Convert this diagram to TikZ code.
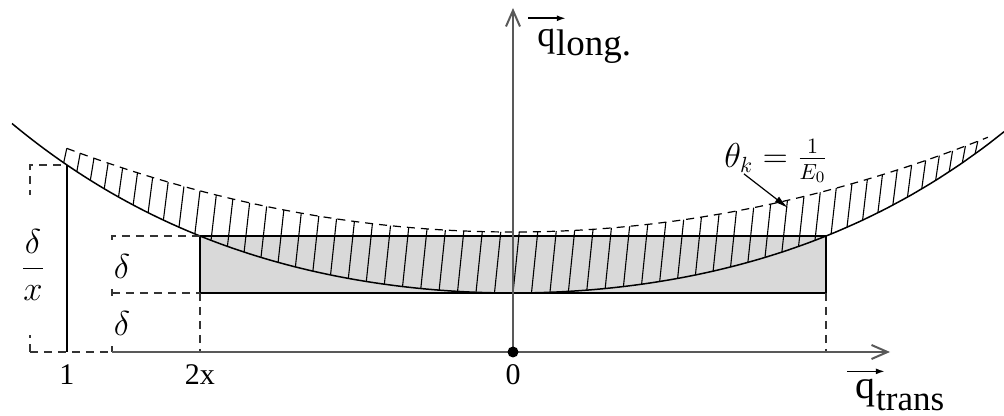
\documentclass[tikz,border=0pt]{standalone}
\usepackage{amsmath}
\usepackage{fontspec}
\setmainfont{Liberation Serif}
\usetikzlibrary{arrows.meta,calc}

\begin{document}
\begin{tikzpicture}[
  x=50pt, y=50pt,
  axisline/.style={draw=black!65, line width=1pt, -{Straight Barb[length=8pt,width=7pt]}},
  dashline/.style={draw=black!80, line width=0.6pt, dash pattern=on 4pt off 3pt},
  curveline/.style={line width=0.75pt},
  hatchline/.style={line width=0.55pt},
  vecarr/.style={line width=0.8pt, -{Latex[length=4.5pt,width=3pt]}},
  ptr/.style={line width=0.6pt, -{Latex[length=7pt,width=3.5pt]}},
  num/.style={font=\fontsize{15}{17}\selectfont},
  sym/.style={font=\fontsize{17}{19}\selectfont, fill=white},
  declare function={lo(\t)=0.59+0.0522*\t*\t+0.000611*\t*\t*\t*\t; hi(\t)=1.2+0.042*\t*\t;}
]
\useasboundingbox (-5.13,-0.64) rectangle (4.91,3.52);

\coordinate (boxsw) at (-3.13,0.59);
\coordinate (boxne) at (3.13,1.16);
\coordinate (one) at (-4.46,{lo(-4.46)});
\coordinate (xstart) at (-4.01,0);
\coordinate (xtip) at (3.77,0);
\coordinate (ytip) at (0,3.44);
\coordinate (thtip) at (2.75,1.44);

\fill[gray!30] (boxsw) rectangle (boxne);
\foreach \n in {-27,...,28} {
  \pgfmathsetmacro\u{0.185*\n-0.0255*(\n/10)^3}
  \pgfmathsetmacro\v{\u+0.02+0.07*(hi(\u)-lo(\u))}
  \draw[hatchline] (\u,{lo(\u)}) -- (\v,{hi(\v)});
}
\draw[dashline, draw=black] plot[domain=-4.46:4.75, samples=90, smooth] (\x,{hi(\x)});
\draw[curveline] plot[domain=-5.01:4.91, samples=120, smooth] (\x,{lo(\x)});
\draw[line width=1.2pt] (boxsw) rectangle (boxne);

\draw[dashline] (-4.83,0) -- (-4.83,{lo(-4.46)}) -- (one);
\draw[dashline] (-4.83,0) -- (xstart);
\draw[line width=0.7pt] (one) -- (-4.46,0);
\draw[dashline] (xstart) -- (-4.01,1.16) -- (-3.13,1.16);
\draw[dashline] (-4.01,0.59) -- (boxsw);
\draw[dashline] (boxsw) -- (-3.13,0);
\draw[dashline] (3.13,0.59) -- (3.13,0);

\draw[axisline] (xstart) -- (xtip);
\draw[axisline] (0,0) -- (ytip);
\node[circle, fill=black, inner sep=0pt, minimum size=5.5pt] (origin) at (0,0) {};

\node[num] (lone) at (-4.46,-0.23) {1};
\node[num] (ltwo) at (-3.13,-0.23) {2x};
\node[num] (lzero) at (0,-0.23) {0};
\node[sym, minimum height=22pt, inner sep=3pt] (dup) at (-3.91,0.85) {$\delta$};
\node[sym, minimum height=22pt, inner sep=3pt] (dlow) at (-3.91,0.28) {$\delta$};
\node[sym, minimum height=70pt, inner sep=2pt] (dfrac) at (-4.80,0.87) {$\dfrac{\delta}{x}$};

\node[font=\fontsize{16}{18}\selectfont, inner sep=0pt] (theta) at (2.63,1.91) {$\theta_k = \frac{1}{E_0}$};
\draw[ptr] ($(theta.south west)+(0.2,0.09)$) -- (thtip);

\node[font=\fontsize{18}{20}\selectfont, inner sep=0pt, anchor=base west] (ql) at (0.24,3.05) {q};
\node[font=\fontsize{18.5}{20}\selectfont, inner sep=0pt, anchor=base west] (lg) at ([yshift=-4.5pt]ql.base east) {long.};
\draw[vecarr] ([shift={(-4.5pt,5.5pt)}]ql.north west) -- ([shift={(5pt,5.5pt)}]ql.north east);

\node[font=\fontsize{20}{22}\selectfont, inner sep=0pt, anchor=base west] (qt) at (3.42,-0.46) {q};
\node[font=\fontsize{17.5}{19}\selectfont, inner sep=0pt, anchor=base west] (tr) at ([yshift=-6.5pt]qt.base east) {trans};
\draw[vecarr] ([shift={(-4pt,3.5pt)}]qt.north west) -- ([shift={(4.5pt,3.5pt)}]qt.north east);
\end{tikzpicture}
\end{document}
